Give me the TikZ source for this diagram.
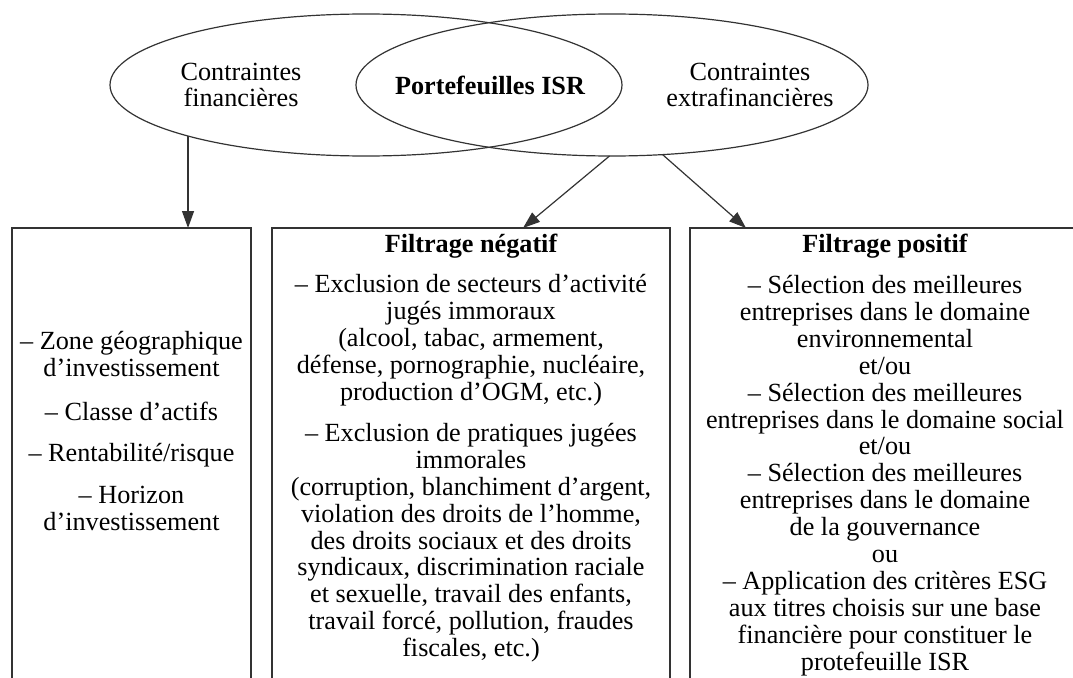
\documentclass[tikz,border=0pt]{standalone}
\usepackage{fontspec}
\setmainfont{Liberation Serif}
\usetikzlibrary{shapes.geometric,arrows.meta}
\begin{document}
\begin{tikzpicture}[x=1pt,y=-1pt,
  line/.style={draw=black!80, line width=1.2pt},
  arr/.style={line, -{Triangle[length=17pt,width=12pt]}},
  venn/.style={ellipse, line, minimum width=512pt, minimum height=142pt, inner sep=0pt, outer sep=0pt},
  boxnode/.style={rectangle, line, anchor=north west, minimum height=520pt, inner sep=0pt, outer sep=0pt},
  txt/.style={align=center, font=\fontsize{26.2}{26.9}\selectfont, inner sep=0pt},
  btxt/.style={txt, font=\fontsize{26.2}{26.9}\selectfont\bfseries},
]
\clip (0,0) rectangle (1073,677);
\fill[white] (0,0) rectangle (1073,677);
% Venn ellipses
\node[venn] (L) at (366,85) {};
\node[venn] (R) at (612,85) {};
\node[txt] (fin) at (241,85) {Contraintes\\financières};
\node[btxt] (isr) at (490,85) {Portefeuilles ISR};
\node[txt] (extra) at (750,85) {Contraintes\\extrafinancières};
% boxes
\node[boxnode, minimum width=239pt] (lbox) at (12,228) {};
\node[boxnode, minimum width=398pt] (mbox) at (272,228) {};
\node[boxnode, minimum width=400pt] (rbox) at (690,228) {};
% arrows
\draw[arr] (L.196) -- (L.196 |- lbox.north);
\draw[arr] (R.268) -- ([xshift=52pt]mbox.north);
\draw[arr] (R.306) -- ([xshift=56pt]rbox.north west);
% left box text
\node[txt] (ltext) at (131.5,431) {-- Zone géographique\\d'investissement\\[17pt]-- Classe d'actifs\\[15pt]-- Rentabilité/risque\\[15pt]-- Horizon\\d'investissement};
% middle box
\node[btxt] (mtitle) at (471,246) {Filtrage négatif};
\node[txt] (mtext) at (471,468.5) {-- Exclusion de secteurs d'activité\\jugés immoraux\\(alcool, tabac, armement,\\défense, pornographie, nucléaire,\\production d'OGM, etc.)\\[14pt]-- Exclusion de pratiques jugées\\immorales\\(corruption, blanchiment d'argent,\\violation des droits de l'homme,\\des droits sociaux et des droits\\syndicaux, discrimination raciale\\et sexuelle, travail des enfants,\\travail forcé, pollution, fraudes\\fiscales, etc.)};
% right box
\node[btxt] (rtitle) at (885,246) {Filtrage positif};
\node[txt] (rtext) at (885,475.5) {-- Sélection des meilleures\\entreprises dans le domaine\\environnemental\\et/ou\\-- Sélection des meilleures\\entreprises dans le domaine social\\et/ou\\-- Sélection des meilleures\\entreprises dans le domaine\\de la gouvernance\\ou\\-- Application des critères ESG\\aux titres choisis sur une base\\financière pour constituer le\\protefeuille ISR};
\end{tikzpicture}
\end{document}
